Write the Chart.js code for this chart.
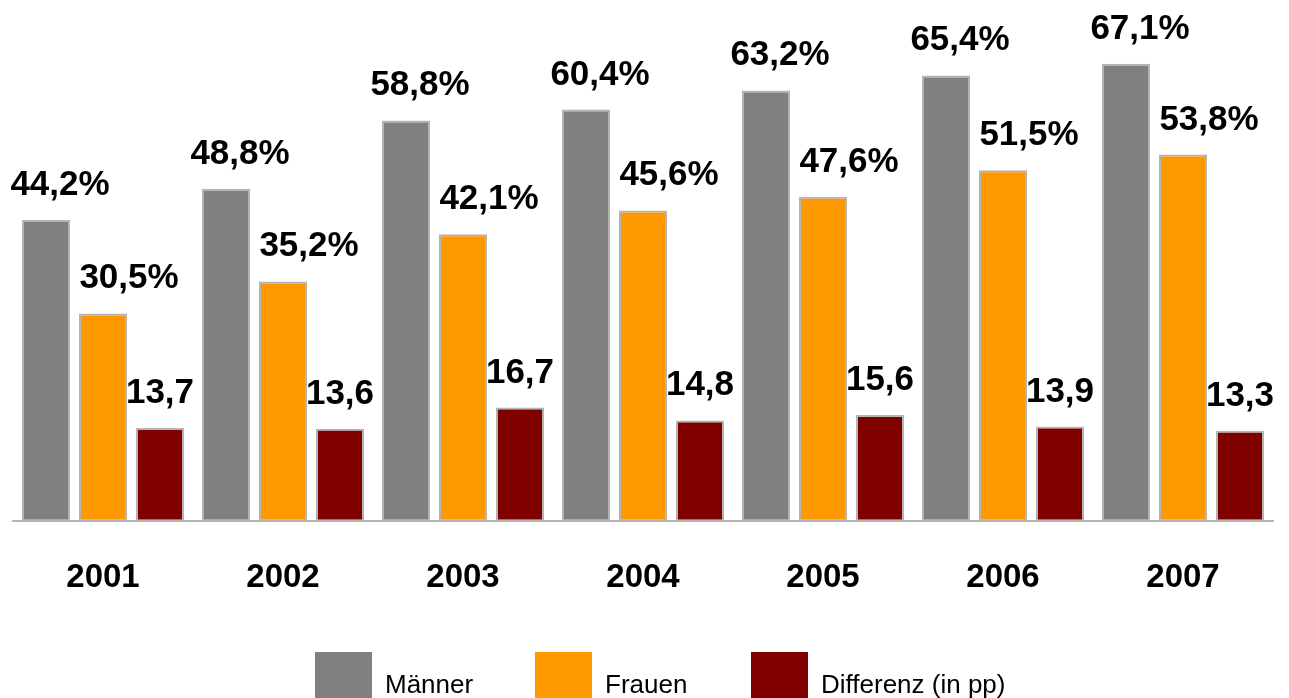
<!DOCTYPE html>
<html>
<head>
<meta charset="utf-8">
<script src="https://cdn.jsdelivr.net/npm/chart.js@4.4.1/dist/chart.umd.min.js"></script>
<style>
  html, body { margin: 0; padding: 0; background: #ffffff; }
  canvas { display: block; }
</style>
</head>
<body>
<canvas id="gapChart" width="1289" height="698"></canvas>
<script>
// Data
const years = ["2001", "2002", "2003", "2004", "2005", "2006", "2007"];
const maenner = [44.2, 48.8, 58.8, 60.4, 63.2, 65.4, 67.1];
const frauen = [30.5, 35.2, 42.1, 45.6, 47.6, 51.5, 53.8];
const differenz = [13.7, 13.6, 16.7, 14.8, 15.6, 13.9, 13.3];
const seriesNames = ["Männer", "Frauen", "Differenz (in pp)"];

const FONT = "'Liberation Sans', Arial, sans-serif";

// value labels above the bars (german decimal comma)
const valueLabels = {
    id: 'valueLabels',
    afterDatasetsDraw(chart) {
        const ctx = chart.ctx;
        const xShift = [14, 26, 0]; // labels sit a bit right of the bar in the original
        ctx.save();
        ctx.font = 'bold 35px ' + FONT;
        ctx.fillStyle = '#000000';
        ctx.textAlign = 'center';
        ctx.textBaseline = 'alphabetic';
        chart.data.datasets.forEach((ds, i) => {
            const meta = chart.getDatasetMeta(i);
            meta.data.forEach((bar, j) => {
                let txt = ds.data[j].toFixed(1).replace('.', ',');
                if (i < 2) txt += '%';
                ctx.fillText(txt, bar.x + xShift[i], bar.y - 25);
            });
        });
        ctx.restore();
    }
};

// legend drawn by hand so the boxes sit like in the original
const boxLegend = {
    id: 'boxLegend',
    afterDraw(chart) {
        const ctx = chart.ctx;
        const boxX = [315, 535, 751];
        ctx.save();
        chart.data.datasets.forEach((ds, i) => {
            ctx.fillStyle = ds.backgroundColor;
            ctx.fillRect(boxX[i], 652, 57, 46);
            ctx.fillStyle = '#000000';
            ctx.font = '26px ' + FONT;
            ctx.textBaseline = 'alphabetic';
            ctx.textAlign = 'left';
            ctx.fillText(ds.label, boxX[i] + 70, 693);
        });
        ctx.restore();
    }
};

const ctx = document.getElementById('gapChart').getContext('2d');

const gapChart = new Chart(ctx, {
    type: 'bar',
    data: {
        labels: years,
        datasets: [
            { label: seriesNames[0], data: maenner, backgroundColor: '#808080' },
            { label: seriesNames[1], data: frauen, backgroundColor: '#ff9900' },
            { label: seriesNames[2], data: differenz, backgroundColor: '#800000' }
        ]
    },
    options: {
        responsive: false,
        animation: false,
        layout: {
            padding: { top: 10, left: 13, right: 16, bottom: 63 }
        },
        datasets: {
            bar: {
                categoryPercentage: 0.95,
                barPercentage: 0.842,
                borderColor: '#b4b4b4',
                borderWidth: 2,
                borderSkipped: false
            }
        },
        scales: {
            x: {
                grid: { display: false, drawTicks: false },
                border: { display: true, color: '#b4b4b4', width: 2 },
                ticks: {
                    padding: 37,
                    color: '#000000',
                    font: { family: FONT, size: 33, weight: 'bold' }
                }
            },
            y: {
                display: false,
                min: 0,
                max: 75
            }
        },
        plugins: {
            legend: { display: false },
            tooltip: { enabled: false }
        }
    },
    plugins: [valueLabels, boxLegend]
});
</script>
</body>
</html>
